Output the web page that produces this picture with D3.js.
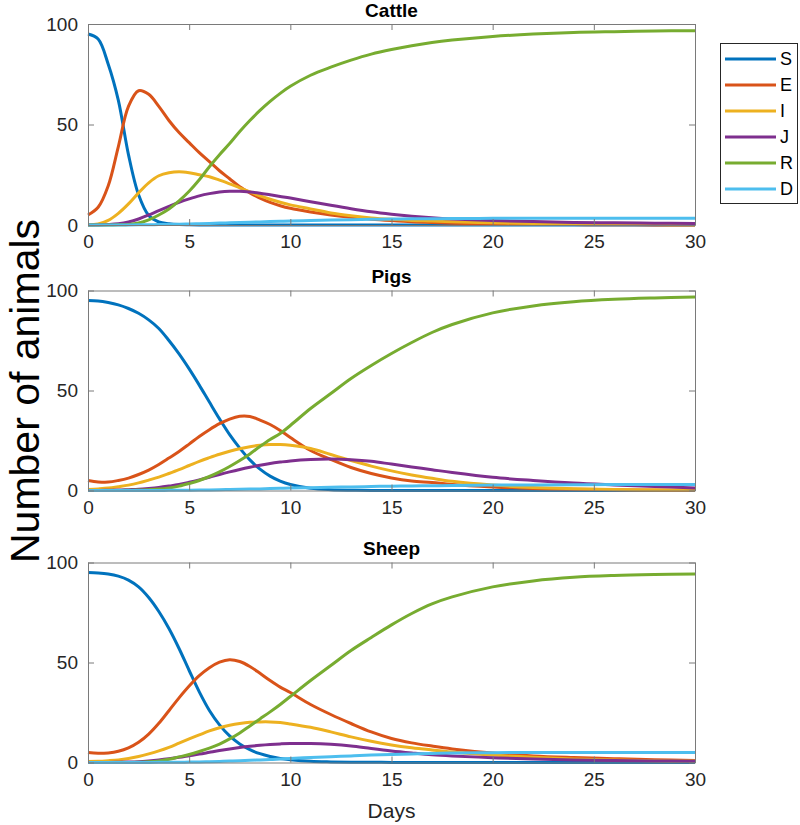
<!DOCTYPE html>
<html>
<head>
<meta charset="utf-8">
<script src="https://cdn.jsdelivr.net/npm/d3@7"></script>
<style>
  html, body { margin: 0; padding: 0; background: #fff; }
  svg { display: block; font-family: "Liberation Sans", Arial, Helvetica, sans-serif; }
</style>
</head>
<body>
<svg id="chart" width="800" height="825"></svg>
<script>
// ---- Data ----
const days = [0,0.5,1,1.5,2,2.5,3,3.5,4,4.5,5,5.5,6,6.5,7,7.5,8,8.5,9,9.5,10,11,12,13,14,15,16,17,18,20,22,24,26,28,30];

const seriesNames = ["S","E","I","J","R","D"];
const seriesColors = ["#0072BD","#D95319","#EDB120","#7E2F8E","#77AC30","#4DBEEE"];
const panelTitles = ["Cattle","Pigs","Sheep"];
const xTicks = [0,5,10,15,20,25,30];
const yTicks = [0,50,100];

const cattleS = [95,92.5,80,62,35,15,4.7,1.5,0.6,0.2,0.1,0.05,0.03,0.02,0.01,0,0,0,0,0,0,0,0,0,0,0,0,0,0,0,0,0,0,0,0];
const cattleE = [5,8.8,19.5,39,59,66.8,65,59,52,46,41,36,31.5,27,23,19,16,13.4,11.3,9.6,8.3,6.5,5,3.8,2.9,2.2,1.6,1.2,0.9,0.5,0.3,0.2,0.1,0.05,0.03];
const cattleI = [0,0.5,2.3,5.8,10.5,16,21,24.5,26,26.5,26,25,24,22.3,20.5,18.5,16.5,14.5,12.8,11.3,10,8,6,4.6,3.5,2.8,2.3,2,1.6,1.1,0.7,0.5,0.3,0.2,0.1];
const cattleJ = [0,0,0.2,0.6,1.5,3,5,7.2,9.3,11.3,13,14.5,15.6,16.4,16.8,16.8,16.4,15.8,15,14.2,13.4,11.6,9.8,8.1,6.6,5.4,4.4,3.6,3,2.2,1.7,1.3,1.1,0.9,0.8];
const cattleR = [0,0,0,0.1,0.3,1,2.6,5,8,12,16.8,22.5,29,35,40.5,46.5,52,57,61.5,65.5,69,74.5,78.5,82,85,87.3,89.2,90.8,92,93.8,95,95.8,96.2,96.5,96.7];
const cattleD = [0,0,0,0,0.05,0.1,0.15,0.2,0.3,0.4,0.5,0.65,0.8,0.95,1.1,1.25,1.4,1.55,1.7,1.85,2,2.25,2.5,2.65,2.8,2.95,3.1,3.15,3.2,3.3,3.4,3.4,3.4,3.4,3.4];

const pigsS = [95,94.8,94,92.8,91,88.6,85.3,81,75,68.3,60.8,52.7,44.2,35.8,27.9,21.2,15.3,10.7,7.2,4.7,3,1.1,0.4,0.15,0.05,0,0,0,0,0,0,0,0,0,0];
const pigsE = [5,4.3,4.2,5,6.2,8,10.2,13,16.2,19.5,23.2,27,30.4,33.4,35.7,37.1,37,35.2,33,30,26.5,20,15.5,11.5,8.5,6.3,4.8,4,3,1.8,1,0.6,0.4,0.2,0.1];
const pigsI = [0.5,0.8,1.2,1.9,2.7,3.8,5.2,6.7,8.5,10.4,12.5,14.6,16.4,18.1,19.6,20.9,21.9,22.6,23,23,22.6,21,18,15,12.2,9.8,7.8,6.1,4.6,2.7,1.5,0.9,0.5,0.3,0.2];
const pigsJ = [0,0,0.1,0.2,0.4,0.6,1,1.5,2.2,3,4.1,5.3,6.6,8,9.3,10.5,11.6,12.6,13.5,14.2,14.8,15.5,15.7,15.4,14.6,13.2,11.8,10.4,9,6.6,5,3.7,2.8,2,1.3];
const pigsR = [0,0,0,0,0.1,0.2,0.4,0.7,1.3,2.2,3.5,5,7,9.3,12,15,18.3,22,25.5,28.5,32.5,41,48.5,56,62.5,68.5,74,79,83,88.8,92.3,94.4,95.6,96.3,96.8];
const pigsD = [0,0,0,0,0,0,0,0,0.1,0.12,0.15,0.2,0.3,0.4,0.5,0.6,0.7,0.8,0.95,1.1,1.2,1.4,1.6,1.8,2,2.15,2.3,2.4,2.5,2.7,2.8,2.9,3,3,3];

const sheepS = [95,94.8,94.3,93.2,91.2,87.8,82.5,75.5,67,57,46,35.3,26,18.8,13.3,9.3,6.4,4.4,3,2,1.4,0.6,0.3,0.15,0.1,0.05,0,0,0,0,0,0,0,0,0];
const sheepE = [5,4.6,4.8,5.6,7.3,10.1,14.2,19.6,25.9,32.3,38.2,43.4,47.4,50.2,51.4,50.5,48,44.6,41,37.7,35,29,24,19.5,15.3,12,9.8,8.2,6.8,4.7,3.3,2.5,1.9,1.4,1];
const sheepI = [0.5,0.6,0.9,1.3,2,3,4.3,5.8,7.6,9.7,11.8,13.8,15.8,17.4,18.6,19.5,20.1,20.3,20.3,20,19.3,17.6,15.3,12.8,10.6,8.8,7.4,6.3,5.3,3.7,2.6,1.8,1.3,0.9,0.7];
const sheepJ = [0,0,0.05,0.1,0.2,0.4,0.8,1.3,1.9,2.6,3.4,4.2,5.1,6,6.8,7.5,8.1,8.6,9,9.3,9.5,9.5,9.1,8.3,7,5.8,4.8,3.9,3.3,2.4,1.7,1.3,1,0.8,0.6];
const sheepR = [0,0,0,0,0.05,0.15,0.35,0.8,1.6,2.8,4,5.5,7.2,9.2,11.8,14.8,18.3,21.8,25.3,29,33,41,48.5,56,62.5,68.8,74.5,79.3,82.8,87.8,90.8,92.6,93.5,94,94.3];
const sheepD = [0,0,0,0,0,0,0.05,0.08,0.1,0.15,0.2,0.3,0.4,0.55,0.7,0.9,1.1,1.3,1.5,1.75,2,2.5,2.9,3.3,3.7,4,4.3,4.5,4.7,4.9,5,5,5,5,5];

const panels = [
  [cattleS, cattleE, cattleI, cattleJ, cattleR, cattleD],
  [pigsS, pigsE, pigsI, pigsJ, pigsR, pigsD],
  [sheepS, sheepE, sheepI, sheepJ, sheepR, sheepD]
];

// ---- Layout ----
const svg = d3.select("#chart");
const left = 88, right = 695;
const panelBoxes = [
  {top: 24, bottom: 225},
  {top: 290.5, bottom: 490.5},
  {top: 562.5, bottom: 762.5}
];
const axisColor = "#7a7a7a";
const textColor = "#262626";
const tickFont = 19;

const x = d3.scaleLinear().domain([0, 30]).range([left, right]);

panels.forEach((series, pi) => {
  const box = panelBoxes[pi];
  const y = d3.scaleLinear().domain([0, 100]).range([box.bottom, box.top]);
  const g = svg.append("g");

  const line = d3.line()
    .x((d, i) => x(days[i]))
    .y(d => y(Math.max(0, d)))
    .curve(d3.curveCatmullRom.alpha(0.5));
  series.forEach((vals, si) => {
    g.append("path")
      .datum(vals)
      .attr("d", line)
      .attr("fill", "none")
      .attr("stroke", seriesColors[si])
      .attr("stroke-width", 3)
      .attr("stroke-linejoin", "round");
  });

  const axB = d3.axisBottom(x).tickValues(xTicks).tickSizeInner(-6).tickSizeOuter(0).tickPadding(10);
  const axT = d3.axisTop(x).tickValues(xTicks).tickSizeInner(-6).tickSizeOuter(0).tickFormat("");
  const axL = d3.axisLeft(y).tickValues(yTicks).tickSizeInner(-6).tickSizeOuter(0).tickPadding(10);
  const axR = d3.axisRight(y).tickValues(yTicks).tickSizeInner(-6).tickSizeOuter(0).tickFormat("");

  const gB = g.append("g").attr("transform", `translate(0,${box.bottom})`).call(axB);
  const gT = g.append("g").attr("transform", `translate(0,${box.top})`).call(axT);
  const gL = g.append("g").attr("transform", `translate(${left},0)`).call(axL);
  const gR = g.append("g").attr("transform", `translate(${right},0)`).call(axR);
  [gB, gT, gL, gR].forEach(a => {
    a.selectAll(".domain").attr("stroke", axisColor).attr("stroke-width", 1);
    a.selectAll(".tick line").attr("stroke", axisColor).attr("stroke-width", 1);
    a.selectAll(".tick text").attr("fill", textColor).attr("font-size", tickFont)
      .attr("font-family", "'Liberation Sans', Arial, sans-serif");
  });

  svg.append("text")
    .attr("x", (left + right) / 2)
    .attr("y", box.top - 7.5)
    .attr("text-anchor", "middle")
    .attr("font-size", 19)
    .attr("font-weight", "bold")
    .attr("fill", "#000")
    .text(panelTitles[pi]);
});

svg.append("text")
  .attr("x", (left + right) / 2)
  .attr("y", 818)
  .attr("text-anchor", "middle")
  .attr("font-size", 21)
  .attr("fill", textColor)
  .text("Days");

svg.append("text")
  .attr("transform", "translate(39,391) rotate(-90)")
  .attr("text-anchor", "middle")
  .attr("font-size", 41)
  .attr("fill", "#000")
  .text("Number of animals");

const leg = svg.append("g");
leg.append("rect")
  .attr("x", 720.5).attr("y", 43.5).attr("width", 77).attr("height", 160)
  .attr("fill", "#fff").attr("stroke", "#262626").attr("stroke-width", 1);
seriesNames.forEach((name, i) => {
  const yy = 59 + i * 26;
  leg.append("line")
    .attr("x1", 725).attr("x2", 776).attr("y1", yy).attr("y2", yy)
    .attr("stroke", seriesColors[i]).attr("stroke-width", 3);
  leg.append("text")
    .attr("x", 780).attr("y", yy).attr("dy", "0.36em")
    .attr("font-size", 18).attr("fill", "#000")
    .text(name);
});
</script>
</body>
</html>
